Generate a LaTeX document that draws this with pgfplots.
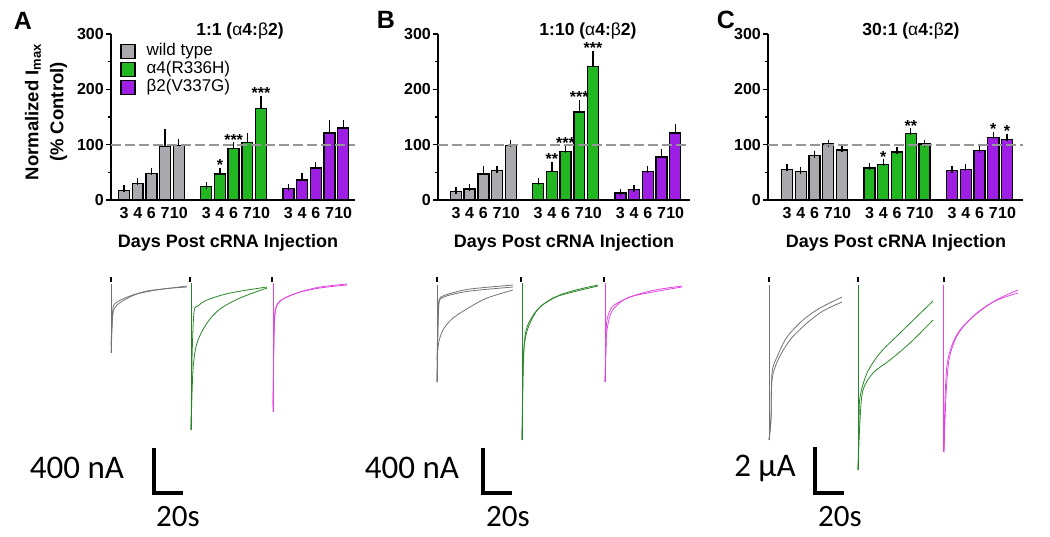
\documentclass[border=0pt]{standalone}
\usepackage{pgfplots}
\pgfplotsset{compat=1.18}
\usepackage{fontspec}
\setmainfont{Liberation Sans}
\newfontfamily\calib{Carlito}
\definecolor{barGray}{RGB}{170,170,174}
\definecolor{barGreen}{RGB}{34,182,34}
\definecolor{barPurple}{RGB}{158,30,228}
\definecolor{trGray}{RGB}{115,115,115}
\definecolor{trGreen}{RGB}{40,135,40}
\definecolor{trMag}{RGB}{226,70,226}
\definecolor{dashGray}{RGB}{150,150,150}
\tikzset{sig/.style={anchor=south, inner sep=0pt, font=\bfseries\fontsize{16}{16}\selectfont}}
\pgfplotsset{
 barpanel/.style={
  scale only axis, ymin=0, ymax=300, height=166pt,
  axis x line=bottom, axis y line=left, axis line style={-, line width=1.6pt},
  ytick={0,100,200,300}, minor ytick={50,150,250},
  tick align=outside, major tick length=5pt, minor tick length=3pt,
  ytick style={black, line width=1.4pt}, minor tick style={black, line width=1.2pt},
  xtick={0,1,2,3,4,6,7,8,9,10,12,13,14,15,16},
  xticklabels={3,4,6,7,10,3,4,6,7,10,3,4,6,7,10},
  xtick style={draw=none},
  /pgf/number format/assume math mode=true,
  yticklabel style={font=\bfseries\fontsize{16}{16}\selectfont, inner sep=2pt},
  xticklabel style={font=\bfseries\fontsize{16}{16}\selectfont, inner sep=2pt},
  ybar, bar width=0.8, bar shift=0pt,
  clip=false,
 },
 bars/.style={draw=black, line width=1.4pt,
  /pgfplots/error bars/y dir=plus, /pgfplots/error bars/y explicit,
  /pgfplots/error bars/error bar style={line width=1.3pt, black},
  /pgfplots/error bars/error mark options={line width=1.3pt, mark size=3.5pt, black}},
 hundred/.style={sharp plot, no markers, dashGray, line width=1.8pt, dash pattern=on 10pt off 4pt, forget plot},
 tg/.style={trGray, line width=0.8pt, no markers},
 tgr/.style={trGreen, line width=0.8pt, no markers},
 tm/.style={trMag, line width=0.8pt, no markers},
 tmark/.style={black, line width=1.6pt, no markers, sharp plot},
}
\begin{document}
\begin{tikzpicture}
\path[use as bounding box] (0pt,0pt) rectangle (1050pt,-537pt);
% ---------- Panel A ----------
\begin{axis}[barpanel, at={(111pt,-200pt)}, anchor=south west, width=244pt,
  xmin=-0.95, xmax=16.86,
  legend style={at={(0.037,0.95)}, anchor=north west, draw=none, fill=none, inner sep=0pt,
    font=\fontsize{17}{17}\selectfont, nodes={inner sep=0pt, text height=13pt, text depth=5pt}, cells={anchor=west},
    /tikz/every odd column/.style={column sep=11pt}},
  ]
\addplot[bars, fill=barGray, legend image code/.code={\draw[fill=barGray,draw=black,line width=1.4pt] (0pt,-7pt) rectangle (14pt,7pt);}]
 table[x=x,y=y,y error=e]{
x y e
0 17 3
1 30 3
2 48 4
3 97 25
4 99 5
};
\addlegendentry{wild type}
\addplot[bars, fill=barGreen, legend image code/.code={\draw[fill=barGreen,draw=black,line width=1.4pt] (0pt,-7pt) rectangle (14pt,7pt);}]
 table[x=x,y=y,y error=e]{
x y e
6 24 2
7 47 5
8 93 5
9 104 10
10 165 17
};
\addlegendentry{α4(R336H)}
\addplot[bars, fill=barPurple, legend image code/.code={\draw[fill=barPurple,draw=black,line width=1.4pt] (0pt,-7pt) rectangle (14pt,7pt);}]
 table[x=x,y=y,y error=e]{
x y e
12 21 2
13 36 7
14 58 4
15 121 18
16 130 8
};
\addlegendentry{β2(V337G)}
\addplot[hundred] coordinates {(-0.95,100) (16.86,100)};
\node[sig] at (axis cs:7,53) {*};
\node[sig] at (axis cs:8,99) {***};
\node[sig] at (axis cs:10,183) {***};
\end{axis}
% ---------- Panel B ----------
\begin{axis}[barpanel, at={(438pt,-200pt)}, anchor=south west, width=252pt,
  xmin=-1.31, xmax=17.08]
\addplot[bars, fill=barGray] table[x=x,y=y,y error=e]{
x y e
0 15 2
1 20 2
2 47 8
3 53 3
4 99 3
};
\addplot[bars, fill=barGreen] table[x=x,y=y,y error=e]{
x y e
6 30 4
7 52 10
8 88 4
9 159 15
10 241 22
};
\addplot[bars, fill=barPurple] table[x=x,y=y,y error=e]{
x y e
12 13 1
13 19 1
14 51 5
15 78 7
16 121 10
};
\addplot[hundred] coordinates {(-1.31,100) (17.08,100)};
\node[sig] at (axis cs:7,63) {**};
\node[sig] at (axis cs:8,93) {***};
\node[sig] at (axis cs:9,175) {***};
\node[sig] at (axis cs:10,264) {***};
\end{axis}
% ---------- Panel C ----------
\begin{axis}[barpanel, at={(768pt,-200pt)}, anchor=south west, width=255pt,
  xmin=-1.38, xmax=17.16]
\addplot[bars, fill=barGray] table[x=x,y=y,y error=e]{
x y e
0 55 3
1 52 2
2 80 3
3 101 2
4 90 3
};
\addplot[bars, fill=barGreen] table[x=x,y=y,y error=e]{
x y e
6 58 2
7 64 3
8 87 3
9 120 3
10 101 2
};
\addplot[bars, fill=barPurple] table[x=x,y=y,y error=e]{
x y e
12 53 3
13 55 3
14 89 3
15 113 4
16 109 4
};
\addplot[hundred] coordinates {(-1.38,100) (17.16,100)};
\node[sig] at (axis cs:7,68) {*};
\node[sig] at (axis cs:9,124) {**};
\node[sig] at (axis cs:15,118) {*};
\node[sig] at (axis cs:16,114) {*};
\end{axis}
% ---------- Overlay: traces, labels, scale bars ----------
\begin{axis}[at={(0pt,0pt)}, anchor=north west, scale only axis, width=1050pt, height=537pt,
  xmin=0, xmax=1050, ymin=0, ymax=537, y dir=reverse, hide axis, clip=false]
% tick marks above traces
\addplot[tmark] coordinates {(111,277) (111,282)};
\addplot[tmark] coordinates {(190,277) (190,282)};
\addplot[tmark] coordinates {(272,277) (272,282)};
\addplot[tmark] coordinates {(437,277) (437,282)};
\addplot[tmark] coordinates {(521,277) (521,282)};
\addplot[tmark] coordinates {(604,277) (604,282)};
\addplot[tmark] coordinates {(769,277) (769,282)};
\addplot[tmark] coordinates {(858,277) (858,282)};
\addplot[tmark] coordinates {(944,277) (944,282)};
% Panel A traces
\addplot[tg, sharp plot] coordinates {(111,284) (111,353)};
\addplot[tg, smooth, tension=0.5] coordinates {(111,353) (112,330) (113,308) (117,302) (130,296) (147,291) (163,289) (187,286)};
\addplot[tg, smooth, tension=0.5] coordinates {(111,345) (112,325) (114,309) (121,302) (137,294) (163,289) (187,287)};
\addplot[tgr, sharp plot] coordinates {(191,283) (191,430)};
\addplot[tgr, smooth, tension=0.5] coordinates {(191,430) (192,360) (194,312) (198,306) (207,300) (230,293) (267,287)};
\addplot[tgr, smooth, tension=0.5] coordinates {(191,430) (193,370) (197,343) (207,323) (220,309) (240,298) (267,288)};
\addplot[tm, sharp plot] coordinates {(273,283) (273,412)};
\addplot[tm, smooth, tension=0.5] coordinates {(273,412) (274,340) (275,312) (280,301) (297,293) (320,288) (347,285)};
\addplot[tm, smooth, tension=0.5] coordinates {(273,405) (274,335) (276,308) (283,299) (300,292) (320,287) (347,284)};
% Panel B traces
\addplot[tg, sharp plot] coordinates {(437,285) (437,382)};
\addplot[tg, smooth, tension=0.5] coordinates {(437,382) (438,330) (439,303) (442,298) (450,295) (470,291) (513,287)};
\addplot[tg, smooth, tension=0.5] coordinates {(437,360) (438,320) (439,300) (443,296) (452,293) (470,289) (513,285)};
\addplot[tg, smooth, tension=0.5] coordinates {(437,382) (438,347) (443,330) (453,318) (470,307) (487,298) (513,290)};
\addplot[tgr, sharp plot] coordinates {(522,283) (522,440)};
\addplot[tgr, smooth, tension=0.5] coordinates {(522,440) (523,380) (524,347) (527,327) (537,310) (553,298) (573,292) (598,286)};
\addplot[tgr, smooth, tension=0.5] coordinates {(522,440) (523,370) (525,340) (530,323) (540,307) (560,295) (580,289) (598,285)};
\addplot[tm, sharp plot] coordinates {(605,283) (605,382)};
\addplot[tm, smooth, tension=0.5] coordinates {(605,382) (606,350) (607,330) (612,311) (627,298) (653,292) (682,287)};
\addplot[tm, smooth, tension=0.5] coordinates {(605,382) (606,340) (607,320) (613,306) (633,296) (655,290) (682,286)};
% Panel C traces
\addplot[tg, sharp plot] coordinates {(769,285) (769,440)};
\addplot[tg, smooth, tension=0.5] coordinates {(769,440) (771,417) (772,373) (777,357) (787,337) (803,320) (820,308) (842,297)};
\addplot[tg, smooth, tension=0.5] coordinates {(769,440) (771,420) (772,380) (778,360) (790,340) (807,323) (823,311) (842,302)};
\addplot[tgr, sharp plot] coordinates {(858,285) (858,470)};
\addplot[tgr, smooth, tension=0.5] coordinates {(858,470) (859,420) (860,397) (867,373) (880,353) (900,333) (933,301)};
\addplot[tgr, smooth, tension=0.5] coordinates {(858,470) (860,420) (863,390) (873,373) (890,360) (910,343) (933,320)};
\addplot[tm, sharp plot] coordinates {(943,285) (943,452)};
\addplot[tm, smooth, tension=0.5] coordinates {(944,452) (945,400) (947,365) (952,345) (960,330) (975,315) (995,301) (1018,293)};
\addplot[tm, smooth, tension=0.5] coordinates {(944,452) (946,395) (949,360) (955,340) (963,327) (978,312) (998,299) (1018,290)};
% scale bars
\addplot[black, line width=4pt, sharp plot, no markers] coordinates {(154,448) (154,493) (183,493)};
\addplot[black, line width=4pt, sharp plot, no markers] coordinates {(483,448) (483,493) (512,493)};
\addplot[black, line width=4pt, sharp plot, no markers] coordinates {(815,447) (815,493) (844,493)};
% text
\node[font=\bfseries\fontsize{25}{25}\selectfont] at (axis cs:23,21) {A};
\node[font=\bfseries\fontsize{25}{25}\selectfont] at (axis cs:386,20) {B};
\node[font=\bfseries\fontsize{25}{25}\selectfont] at (axis cs:726,20) {C};
\node[font=\bfseries\fontsize{17.5}{17.5}\selectfont] at (axis cs:240,31) {1:1 ({\mdseries α}4:{\mdseries β}2)};
\node[font=\bfseries\fontsize{17.5}{17.5}\selectfont] at (axis cs:588,31) {1:10 ({\mdseries α}4:{\mdseries β}2)};
\node[font=\bfseries\fontsize{17.5}{17.5}\selectfont] at (axis cs:911,31) {30:1 ({\mdseries α}4:{\mdseries β}2)};
\node[rotate=90, align=center, font=\bfseries\fontsize{18.5}{25}\selectfont] at (axis cs:46,112) {Normalized I\textsubscript{max}\\(\% Control)};
\node[font=\bfseries\fontsize{18}{18}\selectfont] at (axis cs:228,243) {Days Post cRNA Injection};
\node[font=\bfseries\fontsize{18}{18}\selectfont] at (axis cs:564,243) {Days Post cRNA Injection};
\node[font=\bfseries\fontsize{18}{18}\selectfont] at (axis cs:896,243) {Days Post cRNA Injection};
\node[inner sep=0pt, font=\calib\fontsize{33}{33}\selectfont] at (axis cs:77,468) {400 nA};
\node[inner sep=0pt, font=\calib\fontsize{33}{33}\selectfont] at (axis cs:412,468) {400 nA};
\node[inner sep=0pt, font=\calib\fontsize{33}{33}\selectfont] at (axis cs:765,468) {2 µA};
\node[inner sep=0pt, font=\calib\fontsize{31}{31}\selectfont] at (axis cs:178,517) {20s};
\node[inner sep=0pt, font=\calib\fontsize{31}{31}\selectfont] at (axis cs:508,517) {20s};
\node[inner sep=0pt, font=\calib\fontsize{31}{31}\selectfont] at (axis cs:840,517) {20s};
\end{axis}
\end{tikzpicture}
\end{document}
